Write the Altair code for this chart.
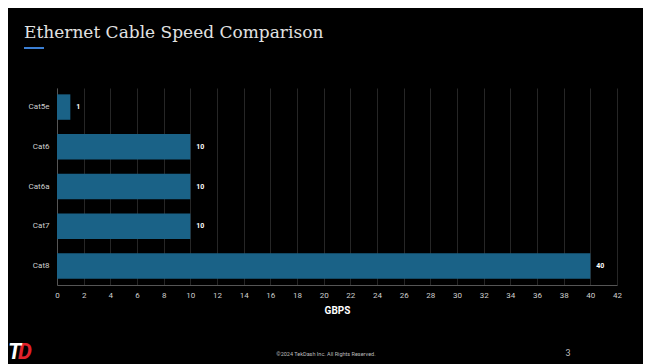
import altair as alt
import pandas as pd

cables = ["Cat5e", "Cat6", "Cat6a", "Cat7", "Cat8"]
speeds = [1, 10, 10, 10, 40]
x_ticks = list(range(0, 43, 2))

title_text = "Ethernet Cable Speed Comparison"
footer_text = "©2024 TekDash Inc. All Rights Reserved."
page_no = "3"

df = pd.DataFrame({"cable": cables, "speed": speeds})
one = pd.DataFrame({"k": [0]})

base = alt.Chart(df)

x_enc = alt.X("speed:Q", scale=alt.Scale(domain=[0, 42], nice=False),
              axis=alt.Axis(values=x_ticks, title="GBPS", grid=True, gridColor="#262626",
                            ticks=False, labelPadding=6, labelFontSize=8, labelColor="#cfcfcf",
                            labelFont="Roboto", titleFont="Roboto", titleFontSize=10,
                            titleColor="#ffffff", titleFontWeight="bold", titlePadding=6,
                            domainColor="#555555", labelFlush=False, labelOverlap=False))
y_enc = alt.Y("cable:N", sort=cables,
              scale=alt.Scale(paddingInner=0.36, paddingOuter=0.16),
              axis=alt.Axis(title=None, ticks=False, labelPadding=8, labelFontSize=8,
                            labelColor="#cfcfcf", labelFont="Roboto", domainColor="#555555",
                            grid=False))

bars = base.mark_bar(color="#1a6287").encode(x=x_enc, y=y_enc)
labels = base.mark_text(align="left", baseline="middle", dx=6, fontSize=7,
                        fontWeight="bold", color="#ffffff", font="Roboto").encode(
    x=x_enc, y=y_enc, text="speed:Q")

deco = alt.Chart(one)
title = deco.mark_text(align="left", baseline="alphabetic", fontSize=17, font="DejaVu Serif",
                       color="#e2e2e2").encode(x=alt.value(-33), y=alt.value(-50),
                                               text=alt.value(title_text))
underline = deco.mark_rule(color="#3b7fd4", strokeWidth=2).encode(
    x=alt.value(-33), x2=alt.value(-13), y=alt.value(-40))
footer = deco.mark_text(align="center", baseline="middle", fontSize=5.5, font="Roboto",
                        color="#bdbdbd").encode(x=alt.value(269), y=alt.value(266),
                                                text=alt.value(footer_text))
page = deco.mark_text(align="center", baseline="middle", fontSize=9, font="Roboto",
                      color="#bdbdbd").encode(x=alt.value(511), y=alt.value(265),
                                              text=alt.value(page_no))
logo_d = deco.mark_text(align="left", baseline="alphabetic", fontSize=22, font="Roboto",
                        fontWeight="bold", fontStyle="italic", color="#e0222c").encode(
    x=alt.value(-39), y=alt.value(271), text=alt.value("D"))
logo_t = deco.mark_text(align="left", baseline="alphabetic", fontSize=22, font="Roboto",
                        fontWeight="bold", fontStyle="italic", color="#ffffff").encode(
    x=alt.value(-49), y=alt.value(271), text=alt.value("T"))

chart = alt.layer(bars, labels, title, underline, footer, page, logo_d, logo_t).properties(
    width=560, height=197, background="#000000",
    padding={"left": 49, "top": 80, "right": 26, "bottom": 79},
    autosize=alt.AutoSizeParams(type="none"),
).configure_view(stroke=None)

chart.save("out.html", embed_options={"renderer": "svg", "actions": False})
